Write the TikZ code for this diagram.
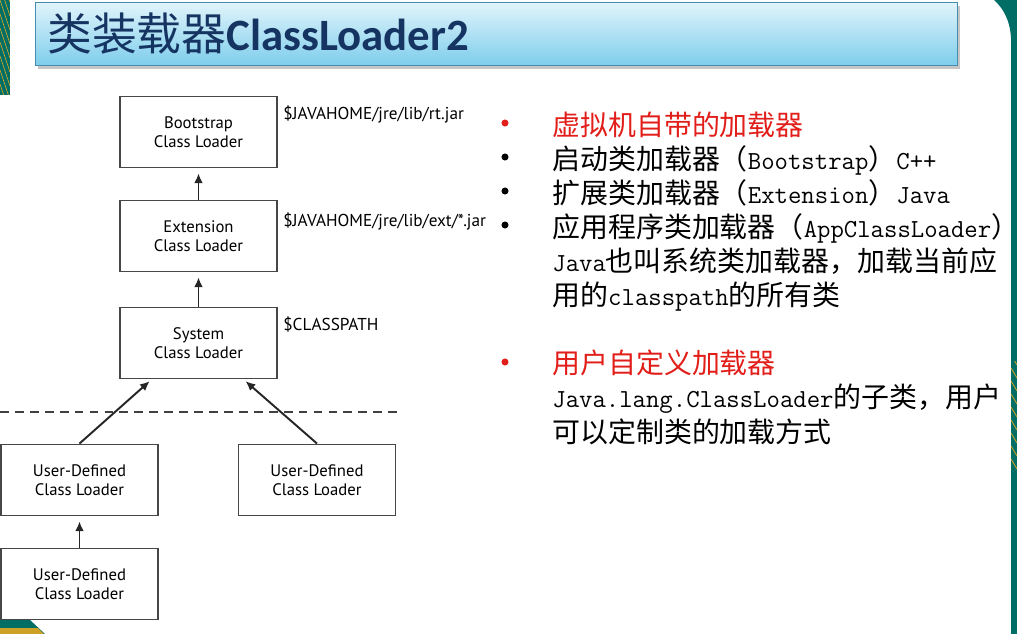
\documentclass[tikz,border=0pt]{standalone}
\usepackage{fontspec}
\usepackage{xcolor}
\usepackage{tikz}
\usetikzlibrary{arrows.meta, positioning, calc, shadows}
\newfontfamily\cjk{Noto Sans CJK SC}
\newfontfamily\ptsans{PT Sans}
\newfontfamily\titlefont{Carlito}
\definecolor{slideteal}{RGB}{0, 110, 100}
\definecolor{slidegold}{RGB}{205, 160, 40}
\definecolor{titlenavy}{RGB}{22, 52, 98}
\definecolor{titleframe}{RGB}{70, 140, 175}
\definecolor{bartop}{RGB}{224, 244, 251}
\definecolor{barbottom}{RGB}{125, 205, 235}
\definecolor{itemred}{RGB}{225, 30, 25}
\newcommand{\lat}[1]{{\ttfamily\fontsize{14.8}{19.3}\selectfont #1}}

\tikzset{
    loader/.style={draw=black!72, line width=1.1pt, fill=white,
        minimum width=3.14cm, minimum height=1.42cm, inner sep=0pt,
        align=center, font=\ptsans\fontsize{9.5}{10.8}\selectfont},
    pathlbl/.style={anchor=west, inner sep=0pt,
        font=\ptsans\fontsize{9.8}{10.8}\selectfont},
    link/.style={-{Latex[length=5.5pt,width=5pt]}, line width=1.1pt, black!85},
    itemtxt/.style={anchor=base west, inner sep=0pt,
        font=\cjk\fontsize{15.9}{19.3}\selectfont},
    bulletdot/.style={fill=#1},
    titlebar/.style={draw=titleframe, line width=0.8pt,
        top color=bartop, bottom color=barbottom, inner sep=0pt,
        drop shadow={shadow xshift=1.5pt, shadow yshift=-2pt, opacity=0.45}}
}

\begin{document}
\begin{tikzpicture}[x=0.02cm, y=-0.02cm]
    \useasboundingbox (0,0) rectangle (1017,634);

    % Slide decoration (teal and gold corners)
    \begin{scope}
        \clip (0,0) rectangle (10,95);
        \fill[slideteal] (0,0) rectangle (10,95);
        \foreach \k in {-2,...,7} {
            \draw[slidegold, line width=0.4pt] (0,\k*14) -- (10,\k*14+30);
        }
    \end{scope}
    \fill[slideteal] (0,619) -- (29,619) -- (45,634) -- (0,634) -- cycle;
    \fill[slidegold] (0,628) -- (38,628) -- (44,634) -- (0,634) -- cycle;

    % Title bar
    \node[titlebar, anchor=north west, minimum width=18.44cm, minimum height=1.26cm]
        (titlebar) at (35,2) {};
    \node[anchor=west, inner sep=0pt, text=titlenavy] (titletext) at (47,34)
        {\cjk\fontsize{25.5}{30}\selectfont 类装载器%
         {\titlefont\bfseries ClassLoader2}};

    % Loader hierarchy
    \node[loader] (boot) at (198.5,132) {Bootstrap\\Class Loader};
    \node[loader] (ext)  at (198.5,236) {Extension\\Class Loader};
    \node[loader] (sys)  at (198.5,343) {System\\Class Loader};
    \node[loader] (udl)  at (79.5,480)  {User-Defined\\Class Loader};
    \node[loader] (udr)  at (317,480)   {User-Defined\\Class Loader};
    \node[loader] (udb)  at (79.5,584)  {User-Defined\\Class Loader};

    \node[pathlbl] (bootpath) at (283,114) {\$JAVAHOME/jre/lib/rt.jar};
    \node[pathlbl] (extpath)  at (283,221) {\$JAVAHOME/jre/lib/ext/*.jar};
    \node[pathlbl] (syspath)  at (283,324) {\$CLASSPATH};

    \draw[link, shorten >=2.8pt] (ext.north) -- (boot.south);
    \draw[link, shorten >=2.8pt] (sys.north) -- (ext.south);
    \draw[link, shorten >=2.8pt] (udb.north) -- (udl.south);
    \draw[link, shorten >=1.5pt] (udl.north) -- ($(sys.south)!0.59!(sys.south west)$);
    \draw[link, shorten >=1.5pt] (udr.north) -- ($(sys.south)!0.567!(sys.south east)$);

    % Boundary between built-in and user loaders
    \coordinate (sepL) at (0,412);
    \coordinate (sepR) at (400,412);
    \draw[line width=1pt, black!75, dash pattern=on 5pt off 3.5pt] (sepL) -- (sepR);

    % Bullet list
    \fill[bulletdot=itemred] (505,123) circle (2pt);
    \fill[bulletdot=black]   (505,157) circle (2pt);
    \fill[bulletdot=black]   (505,191) circle (2pt);
    \fill[bulletdot=black]   (505,225) circle (2pt);
    \fill[bulletdot=itemred] (505,362) circle (2pt);

    \node[itemtxt, text=itemred] (vmitem) at (552,136) {虚拟机自带的加载器};
    \node[itemtxt] (bootitem) at (552,170) {启动类加载器（\lat{Bootstrap}）\lat{C++}};
    \node[itemtxt] (extitem)  at (552,204) {扩展类加载器（\lat{Extension}）\lat{Java}};
    \node[itemtxt] (appitem)  at (552,238) {应用程序类加载器（\lat{AppClassLoader}）};
    \node[itemtxt] (appline2) at (552,272) {\lat{Java}也叫系统类加载器，加载当前应};
    \node[itemtxt] (appline3) at (552,306) {用的\lat{classpath}的所有类};
    \node[itemtxt, text=itemred] (useritem) at (552,374) {用户自定义加载器};
    \node[itemtxt] (userline2) at (552,408) {\lat{Java.lang.ClassLoader}的子类，用户};
    \node[itemtxt] (userline3) at (552,442) {可以定制类的加载方式};

    % Right edge band
    \fill[white] (1008,0) rectangle (1017,634);
    \fill[slideteal] (994,0) .. controls (1003,8) and (1010,20) .. (1011,38)
        -- (1011,634) -- (1017,634) -- (1017,0) -- cycle;
    \begin{scope}
        \clip (1011,362) rectangle (1017,470);
        \foreach \k in {0,...,8} {
            \draw[slidegold, line width=0.5pt] (1011,355+\k*13) -- (1017,365+\k*13);
        }
    \end{scope}
\end{tikzpicture}
\end{document}
